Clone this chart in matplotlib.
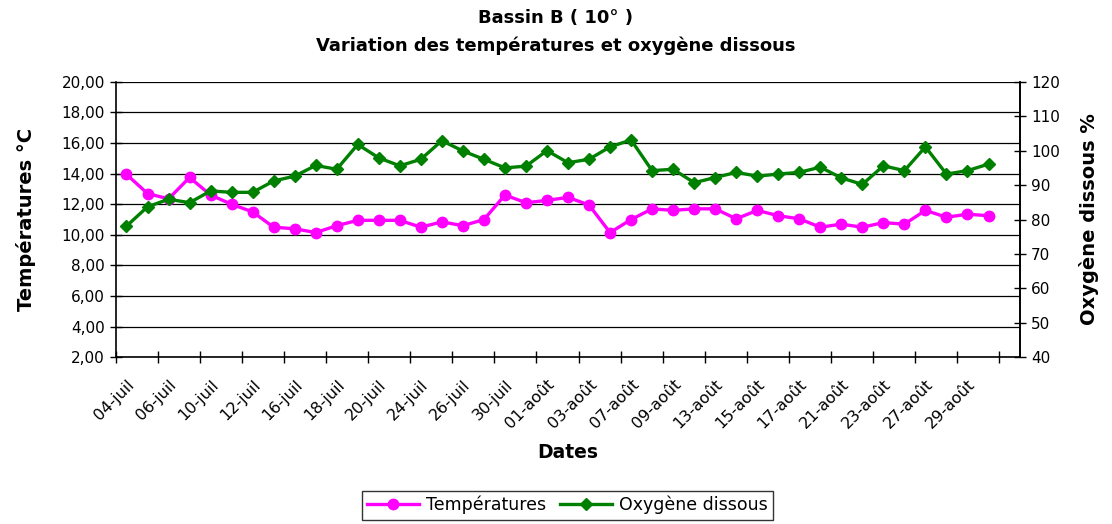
import matplotlib.pyplot as plt
from matplotlib.ticker import FuncFormatter

# dates de mesure (un libellé sur deux affiché)
dates = ['04-juil', '05-juil', '06-juil', '09-juil', '10-juil', '11-juil', '12-juil', '13-juil',
         '16-juil', '17-juil', '18-juil', '19-juil', '20-juil', '23-juil', '24-juil', '25-juil',
         '26-juil', '27-juil', '30-juil', '31-juil', '01-août', '02-août', '03-août', '06-août',
         '07-août', '08-août', '09-août', '10-août', '13-août', '14-août', '15-août', '16-août',
         '17-août', '20-août', '21-août', '22-août', '23-août', '24-août', '27-août', '28-août',
         '29-août', '30-août']

temperatures = [13.95, 12.7, 12.35, 13.75, 12.6, 12.0, 11.5, 10.5, 10.4, 10.15,
                10.6, 10.95, 10.95, 10.95, 10.5, 10.85, 10.6, 11.0, 12.6, 12.1,
                12.25, 12.45, 11.95, 10.15, 11.0, 11.7, 11.6, 11.7, 11.7, 11.05,
                11.6, 11.25, 11.05, 10.5, 10.7, 10.5, 10.8, 10.7, 11.6, 11.15,
                11.35, 11.25]

oxygene = [78.1, 83.7, 85.9, 84.9, 88.3, 87.9, 87.9, 91.2, 92.6, 95.7,
           94.6, 101.8, 97.9, 95.6, 97.5, 102.9, 99.9, 97.5, 95.0, 95.5,
           100.0, 96.5, 97.5, 101.1, 103.1, 94.2, 94.6, 90.7, 92.2, 93.7,
           92.6, 93.2, 93.7, 95.2, 92.1, 90.2, 95.6, 94.2, 101.1, 93.2,
           94.2, 96.1]

x = list(range(len(dates)))

fig = plt.figure(figsize=(11.12, 5.24), dpi=100)
ax = fig.add_axes([0.1043, 0.318, 0.813, 0.526])
ax2 = ax.twinx()

# courbes
l1, = ax.plot(x, temperatures, color='#FF00FF', lw=2.4, marker='o', markersize=7.5,
              label='Températures', zorder=3)
l2, = ax2.plot(x, oxygene, color='#008000', lw=2.4, marker='D', markersize=6.5,
               label='Oxygène dissous', zorder=3)

# axe gauche
ax.set_ylim(2, 20)
ax.set_yticks(range(2, 21, 2))
ax.yaxis.set_major_formatter(FuncFormatter(lambda v, p: f'{v:.2f}'.replace('.', ',')))
ax.grid(axis='y', color='black', lw=0.9)
ax.set_axisbelow(True)
ax.set_ylabel('Températures °C', fontsize=14, fontweight='bold', labelpad=18)

# axe droit
ax2.set_ylim(40, 120)
ax2.set_yticks(range(40, 121, 10))
ax2.set_ylabel('Oxygène dissous %', fontsize=14, fontweight='bold', labelpad=14)

# axe des dates
ax.set_xlim(-0.5, 42.5)
ax.set_xticks(x[::2])
ax.set_xticklabels(dates[::2], rotation=45, ha='right', va='top', rotation_mode='anchor')
ax.set_xticks([i - 0.5 for i in range(0, 43, 2)], minor=True)
ax.tick_params(axis='x', which='major', length=0, pad=14, labelsize=11.5)
ax.tick_params(axis='x', which='minor', length=9, direction='inout', width=1)
ax.set_xlabel('Dates', fontsize=13.5, fontweight='bold', labelpad=8)

ax.tick_params(axis='y', direction='inout', length=9, width=1, labelsize=11)
ax2.tick_params(axis='y', direction='inout', length=9, width=1, labelsize=11)

for a in (ax, ax2):
    for s in a.spines.values():
        s.set_linewidth(1.2)
    a.spines['top'].set_visible(False)
ax2.spines['left'].set_visible(False)
ax2.spines['bottom'].set_visible(False)

# titre
fig.text(0.5, 0.965, 'Bassin B ( 10° )', ha='center', va='center', fontsize=13, fontweight='bold')
fig.text(0.5, 0.912, 'Variation des températures et oxygène dissous', ha='center', va='center',
         fontsize=13, fontweight='bold')

leg = fig.legend(handles=[l1, l2], loc='center', bbox_to_anchor=(0.51, 0.036), ncol=2,
                 fontsize=12.5, frameon=True, fancybox=False, edgecolor='black',
                 borderpad=0.3, handlelength=3.0, columnspacing=0.8, handletextpad=0.4)
leg.get_frame().set_linewidth(1.0)

plt.savefig('out.png', dpi=100)
